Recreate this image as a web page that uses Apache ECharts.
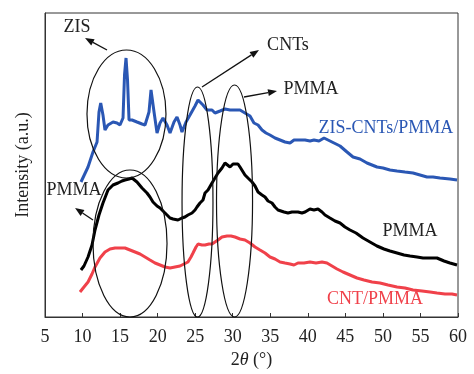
<!DOCTYPE html>
<html>
<head>
<meta charset="utf-8">
<script src="https://cdn.jsdelivr.net/npm/echarts@6/dist/echarts.min.js"></script>
<style>
  html, body { margin: 0; padding: 0; background: #fff; }
  #chart { width: 474px; height: 374px; }
</style>
</head>
<body>
<div id="chart"></div>
<script>
// XRD patterns: 2θ (degrees) and intensity (arbitrary units, curves offset vertically)
const zisTheta = [9.79,10.73,11.39,11.93,12.19,12.42,12.72,12.99,13.39,14.06,14.59,14.99,15.39,15.59,15.79,15.99,16.19,16.59,17.25,17.92,18.32,18.85,19.12,19.52,19.92,20.32,20.71,21.25,21.65,22.18,22.58,22.98,23.24,23.78,24.31,24.98,25.38,26.04,26.57,27.24,27.64,28.31,28.97,29.64,30.30,30.97,31.63,32.30,32.83,33.37,33.90,34.43,34.96,35.63,36.30,36.96,37.63,38.16,38.69,39.63,40.29,40.82,41.49,42.16,42.69,43.49,44.29,45.22,46.02,46.95,47.88,49.21,50.01,50.94,51.88,52.94,54.01,54.94,55.87,56.67,57.60,58.93,59.87];
const zisIntensity = [135,150,165,175,205,214,202,187,192,195,194,192,199,242,259,237,197,197,195,193,192,205,227,205,184,194,199,192,184,195,200,192,185,195,202,211,217,212,207,207,204,206,208,207,207,207,204,201,194,192,187,184,182,179,177,175,174,177,177,177,176,177,176,179,177,174,171,165,160,158,154,150,149,147,146,145,144,142,140,140,139,138,137];

const pmmaTheta = [9.79,10.19,10.73,11.26,11.66,12.19,12.72,13.39,14.06,14.72,15.25,15.65,16.19,16.59,17.25,17.92,18.58,18.98,19.38,19.92,20.32,20.85,21.25,21.65,22.05,22.71,23.24,23.64,24.04,24.58,24.98,25.24,25.64,26.04,26.31,26.71,27.24,27.64,28.04,28.57,28.97,29.64,30.04,30.30,30.70,30.97,31.63,32.03,32.57,32.97,33.37,33.90,34.30,34.70,35.23,35.63,36.03,36.83,37.36,37.89,38.69,39.22,39.63,40.29,40.82,41.36,41.89,42.29,42.95,43.62,44.29,44.95,45.62,46.42,47.35,48.28,49.21,50.14,50.94,51.88,52.81,53.61,54.54,55.34,56.27,57.20,58.14,58.93,59.87];
const pmmaIntensity = [47,51,60,72,87,102,114,127,132,134,136,137,138,139,135,129,124,120,115,111,109,105,102,99,98,97,99,100,102,104,107,110,114,117,124,127,134,139,144,149,154,150,153,152,153,150,142,139,135,131,125,122,120,116,114,110,107,105,104,105,105,104,105,108,107,108,105,102,99,96,94,90,87,84,79,75,71,68,66,64,62,61,60,59,59,59,56,54,52];

const cntTheta = [9.66,10.19,10.73,11.26,11.66,12.32,12.99,13.66,14.32,14.99,15.65,16.32,16.99,17.65,18.32,18.98,19.65,20.32,20.98,21.65,22.31,22.98,23.51,24.04,24.44,24.71,25.11,25.38,25.91,26.31,26.84,27.24,27.64,28.04,28.57,29.24,29.77,30.30,30.97,31.63,32.30,32.97,33.63,34.30,34.96,35.63,36.30,36.96,37.63,38.16,38.69,39.49,40.29,41.09,41.89,42.55,43.22,43.89,44.69,45.62,46.55,47.48,48.55,49.61,50.68,51.88,52.94,54.01,55.21,56.27,57.20,58.27,59.20,59.87];
const cntIntensity = [25,30,35,43,50,59,65,68,69,69,69,67,65,63,60,57,54,52,50,49,50,51,53,55,60,64,70,73,72,72,73,73,75,77,80,81,81,80,78,77,74,70,67,64,60,58,55,54,53,52,54,54,55,54,55,54,51,48,45,42,39,37,35,34,32,30,29,27,26,25,24,23,23,22];

// Axis range and tick spacing for 2θ
const thetaMin = 5, thetaMax = 60, thetaStep = 5;
const intensityMax = 304;

// Annotation callouts, placed in data units [2θ, intensity]
const ellipses = [
  { c: [15.85, 203], rx: 5.26, ry: 64 },
  { c: [16.32, 73.5], rx: 4.93, ry: 73.5 },
  { c: [25.31, 115], rx: 2.06, ry: 115 },
  { c: [30.24, 116], rx: 2.4, ry: 116 }
];
const arrows = [
  { from: [13.26, 267], to: [10.33, 279] },
  { from: [25.91, 230], to: [33.5, 267] },
  { from: [31.5, 220], to: [35.9, 226] },
  { from: [11.39, 97], to: [9.0, 109] }
];
const notes = [
  { text: 'ZIS', at: [9.26, 290], color: '#222' },
  { text: 'CNTs', at: [37.36, 272], color: '#222' },
  { text: 'PMMA', at: [40.42, 228], color: '#222' },
  { text: 'PMMA', at: [8.86, 127], color: '#222' },
  { text: 'ZIS-CNTs/PMMA', at: [50.41, 189], color: '#2a57b4' },
  { text: 'PMMA', at: [53.61, 86], color: '#222' },
  { text: 'CNT/PMMA', at: [48.95, 18], color: '#f0414a' }
];

const FONT = '"Liberation Serif", "Times New Roman", serif';

function pairs(xs, ys) { return xs.map((x, i) => [x, ys[i]]); }

const chart = echarts.init(document.getElementById('chart'), null, { renderer: 'canvas' });

const lineSeries = (name, xs, ys, color) => ({
  name, type: 'line', data: pairs(xs, ys), showSymbol: false, smooth: false,
  lineStyle: { color, width: 3 }, itemStyle: { color }, z: 3
});

chart.setOption({
  animation: false,
  backgroundColor: '#fff',
  grid: { left: 45, right: 16, top: 13, bottom: 57, show: true, borderColor: '#333', borderWidth: 1, backgroundColor: 'transparent' },
  xAxis: {
    type: 'value', min: thetaMin, max: thetaMax, interval: thetaStep,
    name: '2{i|θ} (°)', nameLocation: 'middle', nameGap: 31,
    nameTextStyle: { fontFamily: FONT, fontSize: 18, color: '#222', rich: { i: { fontFamily: FONT, fontSize: 18, fontStyle: 'italic', color: '#222' } } },
    axisLine: { lineStyle: { color: '#333', width: 1 } },
    axisTick: { inside: true, length: 4, lineStyle: { color: '#333' } },
    axisLabel: { fontFamily: FONT, fontSize: 18, color: '#222', margin: 11 },
    splitLine: { show: false }
  },
  yAxis: {
    type: 'value', min: 0, max: intensityMax,
    name: 'Intensity (a.u.)', nameLocation: 'middle', nameGap: 13,
    nameTextStyle: { fontFamily: FONT, fontSize: 18, color: '#222' },
    axisLine: { show: true, lineStyle: { color: '#333', width: 1 } },
    axisTick: { show: false }, axisLabel: { show: false }, splitLine: { show: false }
  },
  series: [
    lineSeries('ZIS-CNTs/PMMA', zisTheta, zisIntensity, '#2a57b4'),
    lineSeries('PMMA', pmmaTheta, pmmaIntensity, '#000000'),
    lineSeries('CNT/PMMA', cntTheta, cntIntensity, '#f0414a')
  ]
});

// Callout shapes and labels, converted from data units to pixels
const px = p => chart.convertToPixel({ gridIndex: 0 }, p);
const graphics = [];
ellipses.forEach(e => {
  const c = px(e.c);
  const r = px([e.c[0] + e.rx, e.c[1] + e.ry]);
  graphics.push({
    type: 'ellipse', z: 10,
    shape: { cx: c[0], cy: c[1], rx: Math.abs(r[0] - c[0]), ry: Math.abs(r[1] - c[1]) },
    style: { fill: 'none', stroke: '#111', lineWidth: 1.2 }
  });
});
arrows.forEach(a => {
  const p0 = px(a.from), p1 = px(a.to);
  const dx = p1[0] - p0[0], dy = p1[1] - p0[1];
  const len = Math.hypot(dx, dy), ux = dx / len, uy = dy / len;
  const hl = 9, hw = 3.5;
  const bx = p1[0] - ux * hl, by = p1[1] - uy * hl;
  graphics.push({
    type: 'line', z: 10,
    shape: { x1: p0[0], y1: p0[1], x2: bx, y2: by },
    style: { stroke: '#111', lineWidth: 1.3 }
  });
  graphics.push({
    type: 'polygon', z: 10,
    shape: { points: [[p1[0], p1[1]], [bx - uy * hw, by + ux * hw], [bx + uy * hw, by - ux * hw]] },
    style: { fill: '#111' }
  });
});
notes.forEach(n => {
  const p = px(n.at);
  graphics.push({
    type: 'text', z: 11, x: p[0], y: p[1],
    style: { text: n.text, font: '18px ' + FONT, fill: n.color, align: 'center', verticalAlign: 'middle' }
  });
});
chart.setOption({ graphic: graphics });
</script>
</body>
</html>
